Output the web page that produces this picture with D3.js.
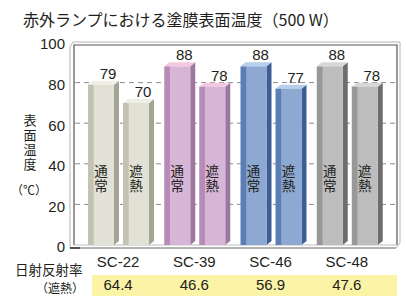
<!DOCTYPE html>
<html>
<head>
<meta charset="utf-8">
<script src="https://cdn.jsdelivr.net/npm/d3@7"></script>
<style>
  body { margin: 0; background: #fff; }
  text { fill: #231f20; }
  .num { font-family: "Liberation Sans", Arial, sans-serif; }
  .jp { font-family: "Noto Sans CJK JP", sans-serif; }
  .vert { writing-mode: vertical-rl; text-orientation: upright; }
</style>
</head>
<body>
<div id="chart"></div>
<script>
// data
var categories = ["SC-22", "SC-39", "SC-46", "SC-48"];
var types = ["通常", "遮熱"];
var normalTemps = [79, 88, 88, 88];
var coolTemps = [70, 78, 77, 78];
var reflectance = ["64.4", "46.6", "56.9", "47.6"];
var yTicks = [0, 20, 40, 60, 80, 100];

// colours per product: stripe, face, side, top
var palette = [
  { stripe: "#c3c3b3", face: "#e1e1d5", side: "#a4a494", top: "#efefe6" },
  { stripe: "#b78bb8", face: "#d7b5d7", side: "#9e779f", top: "#f2c9e0" },
  { stripe: "#5a7eb5", face: "#8da9d1", side: "#3c5e94", top: "#b6cfec" },
  { stripe: "#989898", face: "#bdbdbd", side: "#6d6d6d", top: "#d8d8d8" }
];

var svgWidth = 406;
var svgHeight = 296;

var svg = d3.select("#chart")
  .append("svg")
  .attr("width", svgWidth)
  .attr("height", svgHeight);

var rows = [];
categories.forEach(function(c, i) {
  rows.push({ cat: c, type: types[0], value: normalTemps[i], idx: i });
  rows.push({ cat: c, type: types[1], value: coolTemps[i], idx: i });
});

// scales
var x0 = d3.scaleBand().domain(categories).range([83, 388]);
var x1 = d3.scaleBand().domain(types).range([5, 66]).paddingInner(0.257);
var y = d3.scaleLinear().domain([0, 100]).range([245, 42]);

var depthX = 5, depthY = 4;

// gradients for the front faces
var defs = svg.append("defs");
palette.forEach(function(p, i) {
  var g = defs.append("linearGradient").attr("id", "face" + i)
    .attr("x1", "0").attr("x2", "1").attr("y1", "0").attr("y2", "0");
  g.append("stop").attr("offset", "0").attr("stop-color", p.stripe);
  g.append("stop").attr("offset", "0.2").attr("stop-color", p.stripe);
  g.append("stop").attr("offset", "0.24").attr("stop-color", p.face);
  g.append("stop").attr("offset", "1").attr("stop-color", p.face);
});

// title
svg.append("text")
  .attr("class", "jp")
  .attr("x", 23)
  .attr("y", 26)
  .attr("font-size", 16)
  .text("赤外ランプにおける塗膜表面温度（500 W）");

// frame (3D box)
var frame = svg.append("g");
frame.append("path")
  .attr("d", "M70,248 L70,47 L73,42 L400,42 L400,243 L396,248 Z")
  .attr("fill", "none").attr("stroke", "#b5b5b5").attr("stroke-width", 1);
frame.append("path")
  .attr("d", "M74,245 L74,45 L397,45 L397,245")
  .attr("fill", "none").attr("stroke", "#555").attr("stroke-width", 1.2);
frame.append("line")
  .attr("x1", 74).attr("x2", 397).attr("y1", 245).attr("y2", 245)
  .attr("stroke", "#bdbdbd");
frame.append("line")
  .attr("x1", 70).attr("x2", 396).attr("y1", 248).attr("y2", 248)
  .attr("stroke", "#8a8a8a");
frame.append("line")
  .attr("x1", 70).attr("x2", 80).attr("y1", 248).attr("y2", 248)
  .attr("stroke", "#333").attr("stroke-width", 1.5);

// gridlines
svg.append("g").selectAll("line")
  .data(yTicks.filter(function(t) { return t > 0 && t < 100; }))
  .enter().append("line")
  .attr("x1", 75).attr("x2", 396)
  .attr("y1", function(d) { return y(d); })
  .attr("y2", function(d) { return y(d); })
  .attr("stroke", "#8c8c8c")
  .attr("stroke-dasharray", "5,4");

// y axis tick labels
var leftAxis = d3.axisLeft(y).tickValues(yTicks).tickSize(0).tickPadding(0);
var yAxis = svg.append("g")
  .attr("transform", "translate(65,2)")
  .call(leftAxis);
yAxis.select(".domain").remove();
yAxis.selectAll("text")
  .attr("class", "num")
  .attr("font-size", 15)
  .attr("fill", "#231f20");

// y axis title, stacked vertically
svg.append("text")
  .attr("class", "jp vert")
  .attr("x", 30)
  .attr("y", 114)
  .attr("font-size", 13)
  .attr("letter-spacing", 1.5)
  .text("表面温度");
svg.append("text")
  .attr("class", "jp")
  .attr("x", 29)
  .attr("y", 195)
  .attr("text-anchor", "middle")
  .attr("font-size", 12)
  .text("（℃）");

// bars
var bars = svg.append("g").selectAll("g.bar")
  .data(rows)
  .enter().append("g")
  .attr("class", "bar")
  .attr("transform", function(d) { return "translate(" + (x0(d.cat) + x1(d.type)) + ",0)"; });

var bw = x1.bandwidth();

bars.append("path")
  .attr("d", function(d) {
    var t = y(d.value), b = y(0);
    return "M" + bw + "," + t + " L" + (bw + depthX) + "," + (t - depthY) +
      " L" + (bw + depthX) + "," + (b - depthY) + " L" + bw + "," + b + " Z";
  })
  .attr("fill", function(d) { return palette[d.idx].side; });

bars.append("path")
  .attr("d", function(d) {
    var t = y(d.value);
    return "M0," + t + " L" + depthX + "," + (t - depthY) +
      " L" + (bw + depthX) + "," + (t - depthY) + " L" + bw + "," + t + " Z";
  })
  .attr("fill", function(d) { return palette[d.idx].top; });

bars.append("rect")
  .attr("x", 0)
  .attr("y", function(d) { return y(d.value); })
  .attr("width", bw)
  .attr("height", function(d) { return y(0) - y(d.value); })
  .attr("fill", function(d) { return "url(#face" + d.idx + ")"; });

// value labels
bars.append("text")
  .attr("class", "num")
  .attr("x", bw / 2 + 7)
  .attr("y", function(d) { return y(d.value) - 6; })
  .attr("text-anchor", "middle")
  .attr("font-size", 15)
  .text(function(d) { return d.value; });

// type labels inside the bars, written vertically
bars.append("text")
  .attr("class", "jp vert")
  .attr("x", bw / 2)
  .attr("y", 164)
  .attr("font-size", 13.5)
  .attr("letter-spacing", 1.5)
  .text(function(d) { return d.type; });

// category labels
var bottomAxis = d3.axisBottom(x0).tickSize(0).tickPadding(0);
var xAxis = svg.append("g")
  .attr("transform", "translate(-3,256)")
  .call(bottomAxis);
xAxis.select(".domain").remove();
xAxis.selectAll("text")
  .attr("class", "num")
  .attr("font-size", 15)
  .attr("fill", "#231f20");

// reflectance row
svg.append("rect")
  .attr("x", 92).attr("y", 275)
  .attr("width", 305).attr("height", 21)
  .attr("fill", "#fbf3a6");

svg.append("g").selectAll("text")
  .data(reflectance)
  .enter().append("text")
  .attr("class", "num")
  .attr("x", function(d, i) { return x0(categories[i]) + x0.bandwidth() / 2 - 3; })
  .attr("y", 290)
  .attr("text-anchor", "middle")
  .attr("font-size", 15)
  .text(function(d) { return d; });

svg.append("text")
  .attr("class", "jp")
  .attr("x", 15)
  .attr("y", 275)
  .attr("font-size", 13.5)
  .text("日射反射率");
svg.append("text")
  .attr("class", "jp")
  .attr("x", 84)
  .attr("y", 293)
  .attr("text-anchor", "end")
  .attr("font-size", 12)
  .text("（遮熱）");
</script>
</body>
</html>
